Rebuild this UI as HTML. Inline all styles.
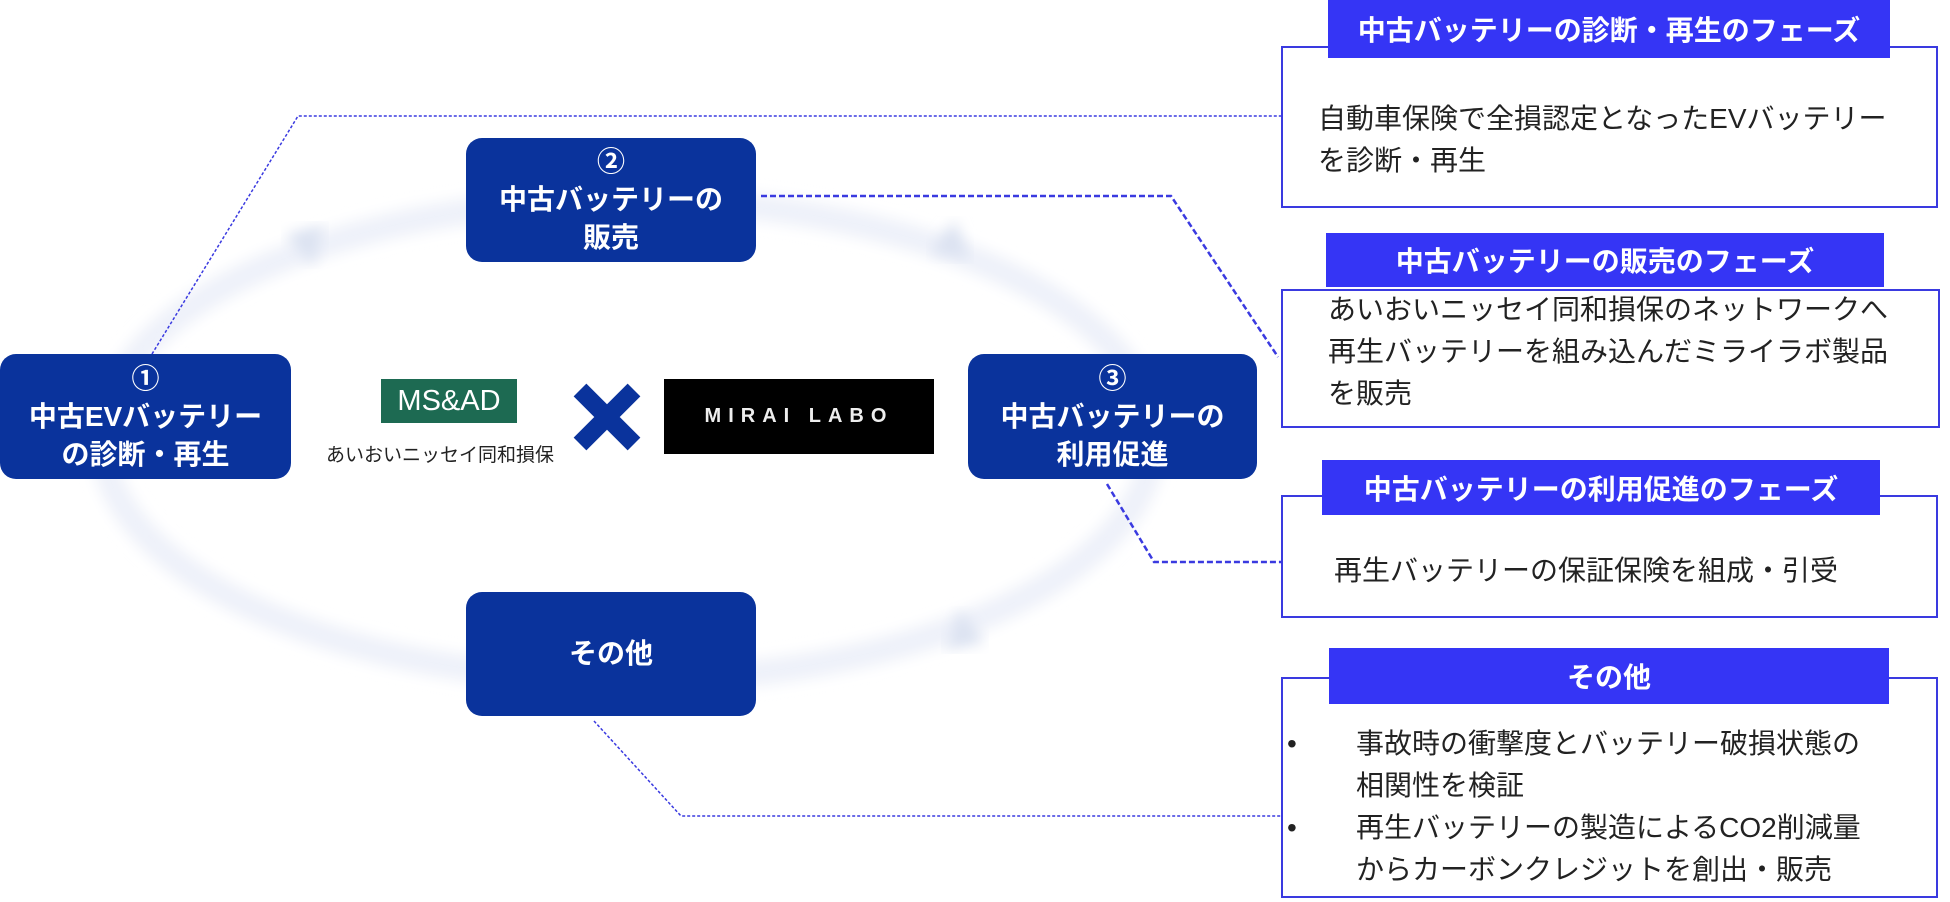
<!DOCTYPE html>
<html><head><meta charset="utf-8"><style>
body{margin:0;width:1950px;height:902px;background:#fff;position:relative;overflow:hidden;font-family:"Liberation Sans","Noto Sans CJK JP",sans-serif;}
.box{position:absolute;background:#0a339c;border-radius:16px;color:#fff;font-weight:bold;font-size:28px;line-height:38px;text-align:center;display:flex;flex-direction:column;justify-content:center;align-items:center;}
.panel{position:absolute;border:2px solid #3a3ae0;background:#fff;box-sizing:border-box;}
.hd{position:absolute;background:#3535f5;color:#fff;font-weight:bold;font-size:28px;text-align:center;display:flex;align-items:center;justify-content:center;white-space:nowrap;}
.t{position:absolute;font-size:28px;color:#222;white-space:nowrap;line-height:42px;}
</style></head><body>
<svg width="1950" height="902" style="position:absolute;left:0;top:0">
<defs><filter id="b"><feGaussianBlur stdDeviation="7"/></filter></defs>
<ellipse cx="628" cy="440" rx="525" ry="240" fill="none" stroke="#eef1f9" stroke-width="26" filter="url(#b)"/>
<path d="M285 235 l40 -10 l-12 40 z" fill="#dbe2f1" filter="url(#b)"/>
<path d="M955 220 l15 40 l-40 -8 z" fill="#dbe2f1" filter="url(#b)"/>
<path d="M960 610 l-15 40 l40 -8 z" fill="#dbe2f1" filter="url(#b)"/>
<g fill="none" stroke="#3a3ae0">
<polyline points="152,354 298,116 1281,116" stroke-width="1.5" stroke-dasharray="3,2"/>
<polyline points="761,196 1171,196 1278,357" stroke-width="2.5" stroke-dasharray="6,3"/>
<polyline points="1107,484 1154,562 1281,562" stroke-width="2.5" stroke-dasharray="6,3"/>
<polyline points="594,721 681,816 1281,816" stroke-width="1.5" stroke-dasharray="3,2"/>
</g>
</svg>
<div class="box" style="left:0;top:354px;width:291px;height:125px">①<br>中古EVバッテリー<br>の診断・再生</div>
<div class="box" style="left:466px;top:138px;width:290px;height:124px">②<br>中古バッテリーの<br>販売</div>
<div class="box" style="left:968px;top:354px;width:289px;height:125px">③<br>中古バッテリーの<br>利用促進</div>
<div class="box" style="left:466px;top:592px;width:290px;height:124px">その他</div>
<div style="position:absolute;left:381px;top:379px;width:136px;height:44px;background:#1d6a52;color:#fff;font-size:29px;text-align:center;line-height:44px;font-family:'Liberation Sans Narrow','Liberation Sans',sans-serif">MS&amp;AD</div>
<div style="position:absolute;left:326px;top:440px;font-size:19px;color:#222;white-space:nowrap">あいおいニッセイ同和損保</div>
<svg style="position:absolute;left:572px;top:382px" width="70" height="70"><path d="M8 8 L62 62 M62 8 L8 62" stroke="#0a339c" stroke-width="18"/></svg>
<div style="position:absolute;left:664px;top:379px;width:270px;height:75px;background:#000;color:#eee;font-size:20px;letter-spacing:7px;line-height:75px;text-align:center;font-weight:bold">MIRAI LABO</div>
<div class="panel" style="left:1281px;top:46px;width:657px;height:162px"></div>
<div class="hd" style="left:1328px;top:0;width:562px;height:58px">中古バッテリーの診断・再生のフェーズ</div>
<div class="t" style="left:1318px;top:98px">自動車保険で全損認定となったEVバッテリー<br>を診断・再生</div>
<div class="panel" style="left:1281px;top:289px;width:659px;height:139px"></div>
<div class="hd" style="left:1326px;top:233px;width:558px;height:54px">中古バッテリーの販売のフェーズ</div>
<div class="t" style="left:1328px;top:289px">あいおいニッセイ同和損保のネットワークへ<br>再生バッテリーを組み込んだミライラボ製品<br>を販売</div>
<div class="panel" style="left:1281px;top:495px;width:657px;height:123px"></div>
<div class="hd" style="left:1322px;top:460px;width:558px;height:55px">中古バッテリーの利用促進のフェーズ</div>
<div class="t" style="left:1334px;top:550px">再生バッテリーの保証保険を組成・引受</div>
<div class="panel" style="left:1281px;top:677px;width:657px;height:221px"></div>
<div class="hd" style="left:1329px;top:648px;width:560px;height:56px">その他</div>
<div class="t" style="left:1287px;top:723px">•</div>
<div class="t" style="left:1287px;top:807px">•</div>
<div class="t" style="left:1356px;top:723px">事故時の衝撃度とバッテリー破損状態の<br>相関性を検証<br>再生バッテリーの製造によるCO2削減量<br>からカーボンクレジットを創出・販売</div>
</body></html>
